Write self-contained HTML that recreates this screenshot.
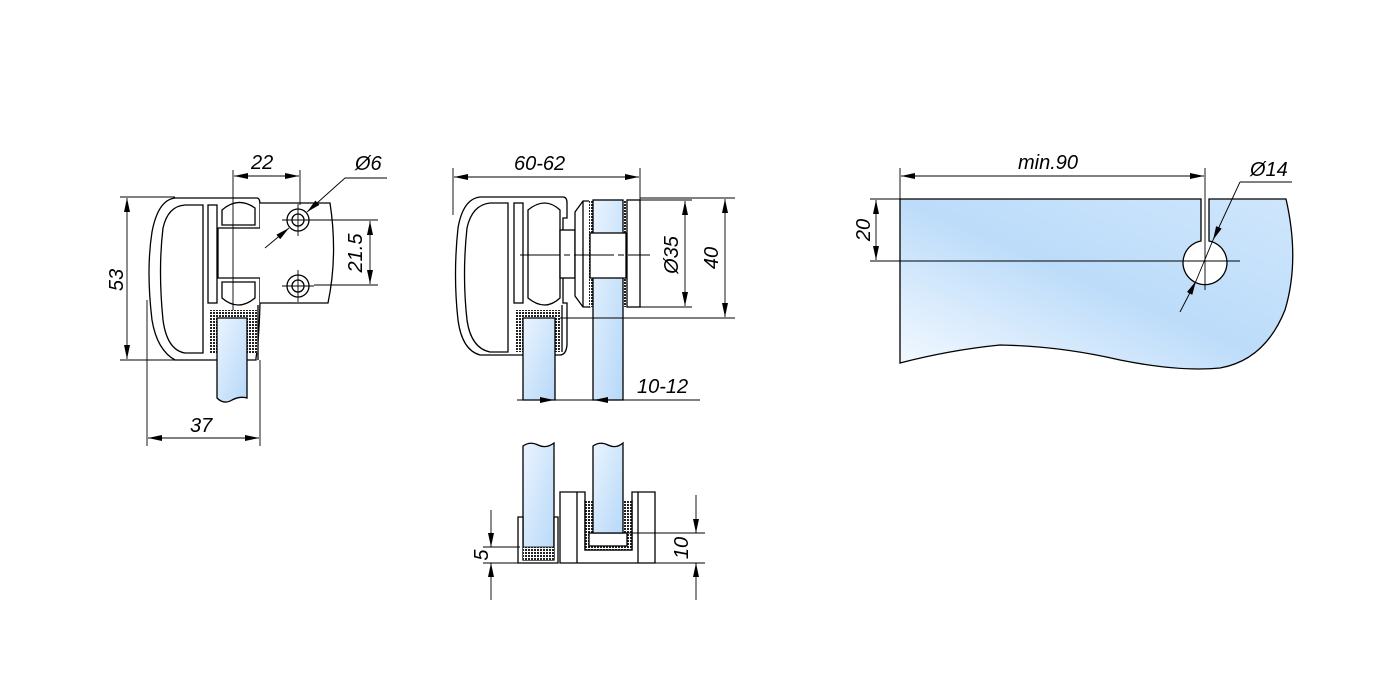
<!DOCTYPE html>
<html><head><style>html,body{margin:0;padding:0;background:#fff}svg{display:block}
text{font-family:"Liberation Sans",sans-serif;font-style:italic;font-size:20px;fill:#000}</style></head>
<body>
<svg width="1376" height="680" viewBox="0 0 1376 680" xmlns="http://www.w3.org/2000/svg">
<defs>
<linearGradient id="g" x1="0" y1="1" x2="1" y2="0"><stop offset="0" stop-color="#f4f9ff"/><stop offset="0.5" stop-color="#bcdcfa"/><stop offset="1" stop-color="#cfe6fc"/></linearGradient>
<linearGradient id="gv" x1="0" y1="0" x2="1" y2="1"><stop offset="0" stop-color="#eaf4ff"/><stop offset="1" stop-color="#b6d8f8"/></linearGradient>
<pattern id="dots" width="3" height="3" patternUnits="userSpaceOnUse"><rect width="3" height="3" fill="#fff"/><rect width="2" height="2" fill="#222"/></pattern>
<marker id="a" viewBox="0 0 14 6" refX="14" refY="3" markerWidth="14" markerHeight="6" orient="auto-start-reverse" markerUnits="userSpaceOnUse"><path d="M0,0L14,3L0,6z" fill="#000"/></marker>
</defs>
<g stroke="#000" stroke-width="1.3" fill="none">
<!-- ===== LEFT VIEW ===== -->
<path d="M175,198 L257,198 Q260,198 260,205 L260,228 L218,228 L218,278 L260,278 L260,303 Q259,340 256,358 L256,360 L175,360 Q157,350 152,320 Q146,270 152,232 Q158,200 175,198Z" fill="#fff"/>
<path d="M203,205 L185,205 Q168,206 163,228 Q158,270 163,320 Q167,350 185,353 L203,353Z" fill="#fff"/>
<rect x="208" y="205" width="9" height="98" fill="#fff"/>
<path d="M222,210 Q238,196 255,208 L255,225 L222,225 Z M222,298 Q238,312 255,298 L255,282 L222,282 Z" fill="#fff"/>
<path d="M260,203 L330,203 Q338,255 328,303 L260,303" fill="#fff"/>
<circle cx="298" cy="220" r="11"/><circle cx="298" cy="220" r="6"/>
<circle cx="298" cy="286" r="11"/><circle cx="298" cy="286" r="6"/>
<g stroke-width="0.9"><line x1="282" y1="220" x2="314" y2="220"/><line x1="298" y1="204" x2="298" y2="236"/><line x1="282" y1="286" x2="314" y2="286"/><line x1="298" y1="270" x2="298" y2="302"/></g>
<rect x="210" y="310" width="48" height="43" fill="url(#dots)" stroke="none"/>
<path d="M217,318 L247,318 L247,398 Q240,396 232,400 Q224,405 217,398Z" fill="url(#gv)"/>
<path d="M258,305 L258,360" />
<g stroke-width="0.9">
<line x1="120" y1="197" x2="175" y2="197"/><line x1="120" y1="360" x2="210" y2="360"/>
<line x1="127" y1="198" x2="127" y2="359" marker-start="url(#a)" marker-end="url(#a)"/>
<line x1="147" y1="300" x2="147" y2="446"/><line x1="260" y1="360" x2="260" y2="446"/>
<line x1="148" y1="438" x2="259" y2="438" marker-start="url(#a)" marker-end="url(#a)"/>
<line x1="233" y1="170" x2="233" y2="310"/><line x1="300" y1="170" x2="300" y2="205"/>
<line x1="234" y1="176" x2="299" y2="176" marker-start="url(#a)" marker-end="url(#a)"/>
<line x1="310" y1="220" x2="378" y2="220"/><line x1="314" y1="285" x2="378" y2="285"/>
<line x1="370" y1="221" x2="370" y2="284" marker-start="url(#a)" marker-end="url(#a)"/>
<line x1="265" y1="248" x2="289" y2="228" marker-end="url(#a)"/>
<line x1="345" y1="178" x2="307" y2="212" marker-end="url(#a)"/>
<line x1="345" y1="178" x2="387" y2="178"/>
</g>
<!-- ===== MIDDLE VIEW ===== -->
<path d="M480,197 L563,197 Q567,197 567,203 L567,218 L563,218 L563,303 L567,303 L567,345 Q566,355 560,355 L480,355 Q462,350 458,320 Q453,275 458,228 Q463,199 480,197Z" fill="#fff"/>
<path d="M508,203 L490,203 Q472,205 467,228 Q462,275 467,320 Q471,348 490,352 L508,352Z" fill="#fff"/>
<rect x="514" y="203" width="9" height="100" fill="#fff"/>
<path d="M528,210 Q545,196 560,210 L560,298 Q545,312 528,298Z" fill="#fff"/>
<rect x="560" y="230" width="15" height="48" fill="#fff"/>
<path d="M575,212 L583,201 L590,201 L590,307 L583,307 L575,296Z" fill="#fff"/>
<line x1="583" y1="201" x2="583" y2="307"/>
<rect x="589" y="200" width="37" height="107" fill="url(#dots)" stroke="none"/>
<rect x="593" y="200" width="30" height="200" fill="url(#gv)"/>
<rect x="590" y="233" width="36" height="45" fill="#fff"/>
<rect x="627" y="200" width="13" height="107" fill="#fff"/>
<rect x="516" y="310" width="44" height="42" fill="url(#dots)" stroke="none"/>
<path d="M523,318 L555,318 L555,400 L523,400Z" fill="url(#gv)"/>
<line x1="562" y1="305" x2="562" y2="352"/>
<g stroke-width="0.9">
<line x1="520" y1="255" x2="650" y2="255" stroke-dasharray="40 4 6 4"/>
<line x1="453" y1="168" x2="453" y2="215"/><line x1="640" y1="168" x2="640" y2="200"/>
<line x1="454" y1="177" x2="639" y2="177" marker-start="url(#a)" marker-end="url(#a)"/>
<line x1="640" y1="200" x2="692" y2="200"/><line x1="640" y1="307" x2="692" y2="307"/>
<line x1="685" y1="201" x2="685" y2="306" marker-start="url(#a)" marker-end="url(#a)"/>
<line x1="640" y1="198" x2="735" y2="198"/><line x1="560" y1="318" x2="735" y2="318"/>
<line x1="725" y1="199" x2="725" y2="317" marker-start="url(#a)" marker-end="url(#a)"/>
<line x1="517" y1="400" x2="700" y2="400"/>
<line x1="535" y1="400" x2="554" y2="400" marker-end="url(#a)"/>
<line x1="612" y1="400" x2="594" y2="400" marker-end="url(#a)"/>
</g>
<!-- ===== BOTTOM VIEW ===== -->
<path d="M523,446 Q530,441 538,445 Q546,449 554,443 L554,560 L523,560Z" fill="url(#gv)"/>
<path d="M518,517 L518,563 L558,563 L558,517 L554,517 L554,560 L523,560 L523,517Z" fill="#fff"/>
<rect x="523" y="547" width="31" height="13" fill="url(#dots)" stroke="none"/>
<line x1="523" y1="547" x2="554" y2="547" stroke-width="0.8"/>
<path d="M560,492 L577,492 L577,563 L560,563Z M577,492 L585,492 L585,550 L632,550 L632,492 L655,492 L655,563 L577,563Z" fill="#fff"/>
<line x1="638" y1="492" x2="638" y2="563"/>
<rect x="585" y="500" width="47" height="50" fill="url(#dots)" stroke="none"/>
<rect x="589" y="533" width="38" height="13" fill="#fff"/>
<path d="M593,446 Q600,441 608,445 Q616,449 623,443 L623,533 L593,533Z" fill="url(#gv)"/>
<path d="M585,500 L585,550 L632,550 L632,500" />
<g stroke-width="0.9">
<line x1="483" y1="547" x2="520" y2="547"/><line x1="483" y1="563" x2="520" y2="563"/>
<line x1="491" y1="510" x2="491" y2="547" marker-end="url(#a)"/>
<line x1="491" y1="600" x2="491" y2="563" marker-end="url(#a)"/>
<line x1="620" y1="533" x2="705" y2="533"/><line x1="655" y1="563" x2="705" y2="563"/>
<line x1="696" y1="495" x2="696" y2="533" marker-end="url(#a)"/>
<line x1="696" y1="600" x2="696" y2="563" marker-end="url(#a)"/>
</g>
<!-- ===== RIGHT VIEW ===== -->
<path d="M900,199 L1201,199 L1201,241 A22,22 0 1 0 1209,241 L1209,199 L1286,199 Q1300,260 1285,310 Q1265,360 1220,368 Q1180,372 1120,360 Q1060,346 1000,345 Q950,350 900,363Z" fill="url(#g)"/>
<g stroke-width="0.9">
<line x1="900" y1="168" x2="900" y2="199"/><line x1="1205" y1="168" x2="1205" y2="236"/>
<line x1="901" y1="176" x2="1204" y2="176" marker-start="url(#a)" marker-end="url(#a)"/>
<line x1="870" y1="199" x2="900" y2="199"/><line x1="870" y1="261" x2="1240" y2="261"/>
<line x1="876" y1="200" x2="876" y2="260" marker-start="url(#a)" marker-end="url(#a)"/>
<line x1="1205" y1="236" x2="1205" y2="290"/>
<line x1="1240" y1="182" x2="1213" y2="240" marker-end="url(#a)"/>
<line x1="1180" y1="312" x2="1196" y2="281" marker-end="url(#a)"/>
<line x1="1196" y1="281" x2="1213" y2="240"/>
<line x1="1240" y1="182" x2="1292" y2="182"/>
</g>
</g>
<text x="251" y="169">22</text>
<text x="355" y="170">Ø6</text>
<text x="190" y="432">37</text>
<text transform="translate(123,280) rotate(-90)" text-anchor="middle">53</text>
<text transform="translate(362,253) rotate(-90)" text-anchor="middle">21.5</text>
<text x="514" y="170">60-62</text>
<text transform="translate(678,255) rotate(-90)" text-anchor="middle">Ø35</text>
<text transform="translate(718,258) rotate(-90)" text-anchor="middle">40</text>
<text x="637" y="393">10-12</text>
<text transform="translate(488,555) rotate(-90)" text-anchor="middle">5</text>
<text transform="translate(688,548) rotate(-90)" text-anchor="middle">10</text>
<text x="1018" y="169">min.90</text>
<text x="1250" y="176">Ø14</text>
<text transform="translate(870,230) rotate(-90)" text-anchor="middle">20</text>
</svg>
</body></html>
